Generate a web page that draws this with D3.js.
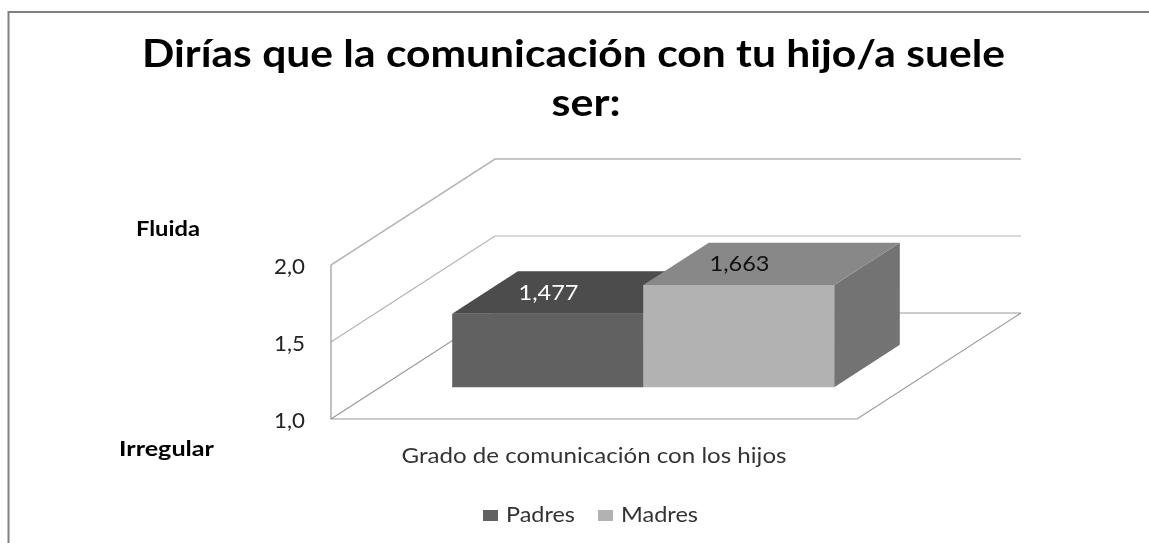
<!DOCTYPE html>
<html>
<head>
<meta charset="utf-8">
<script src="https://cdn.jsdelivr.net/npm/d3@7"></script>
<style>
body { margin: 0; background: #fff; }
svg { display: block; filter: blur(0.5px); }
text { font-family: Lato, "Open Sans", sans-serif; }
</style>
</head>
<body>
<svg id="chart" width="1149" height="543"></svg>
<script>
const series = ["Padres", "Madres"];
const values = [1.477, 1.663];
const valueLabels = ["1,477", "1,663"];
const yTicks = [1, 1.5, 2];
const yTickLabels = ["1,0", "1,5", "2,0"];
const category = "Grado de comunicación con los hijos";
const titleLines = ["Dirías que la comunicación con tu hijo/a suele", "ser:"];

const frontColor = d3.scaleOrdinal(series, ["#616161", "#b2b2b2"]);
const topColor = d3.scaleOrdinal(series, ["#4c4c4c", "#888888"]);
const sideColor = d3.scaleOrdinal(series, ["#505050", "#737373"]);
const labelColor = d3.scaleOrdinal(series, ["#ffffff", "#111111"]);

const svg = d3.select("#chart");

// the text in the picture is stretched sideways, so every label gets a fixed width
function stretched(sel, w) {
    return sel.attr("textLength", w).attr("lengthAdjust", "spacingAndGlyphs");
}

// chart frame, only top and left are visible in the picture
svg.append("path")
    .attr("d", "M8.5,543V12H1149")
    .attr("fill", "none")
    .attr("stroke", "#808080")
    .attr("stroke-width", 2);

const titleWidths = [863, 69];
svg.selectAll(".title")
    .data(titleLines)
    .join("text")
    .attr("class", "title")
    .attr("x", (d, i) => i === 0 ? 573.5 : 586)
    .attr("y", (d, i) => 67 + i * 49)
    .attr("text-anchor", "middle")
    .attr("font-size", 38)
    .attr("font-weight", 700)
    .attr("fill", "#000")
    .text(d => d)
    .call(stretched, (d, i) => titleWidths[i]);

// pseudo 3d: x along the floor, y by value, depth from 0 (front) to 1 (back)
const floorX = d3.scaleLinear([0, 1], [331, 857]);
const y = d3.scaleLinear([1, 2], [419, 265]);
const band = d3.scaleBand(series, [403, 785]);
const depthX = d3.scaleLinear([0, 1], [0, 164]);
const depthY = d3.scaleLinear([0, 1], [0, -106]);

function pt(px, v, depth) {
    return [px + depthX(depth), y(v) + depthY(depth)];
}
const x0 = floorX(0), x1 = floorX(1);
const line = d3.line();

// back wall gridlines with the left wall part
svg.selectAll(".grid")
    .data(yTicks)
    .join("path")
    .attr("class", "grid")
    .attr("d", d => line([pt(x0, d, 0), pt(x0, d, 1), pt(x1, d, 1)]))
    .attr("fill", "none")
    .attr("stroke", d => d === 1 ? "#999" : "#b4b4b4")
    .attr("stroke-width", d => d === 2 ? 1.5 : 1.2);

// front edge of floor, right edge of floor and the vertical axis
svg.append("path")
    .attr("d", line([pt(x0, 2, 0), pt(x0, 1, 0), pt(x1, 1, 0), pt(x1, 1, 1)]))
    .attr("fill", "none")
    .attr("stroke", "#999")
    .attr("stroke-width", 1.2);

const depthFront = 0.3, depthBack = 0.7;
const bars = series.map((s, i) => ({ name: s, value: values[i], label: valueLabels[i] }));

const barG = svg.selectAll(".bar").data(bars).join("g").attr("class", "bar");

barG.append("path")
    .attr("fill", d => sideColor(d.name))
    .attr("d", d => {
        const r = band(d.name) + band.bandwidth();
        return line([pt(r, d.value, depthFront), pt(r, d.value, depthBack), pt(r, 1, depthBack), pt(r, 1, depthFront)]) + "Z";
    });
barG.append("path")
    .attr("fill", d => topColor(d.name))
    .attr("d", d => {
        const l = band(d.name), r = l + band.bandwidth();
        return line([pt(l, d.value, depthFront), pt(l, d.value, depthBack), pt(r, d.value, depthBack), pt(r, d.value, depthFront)]) + "Z";
    });
barG.append("path")
    .attr("fill", d => frontColor(d.name))
    .attr("d", d => {
        const l = band(d.name), r = l + band.bandwidth();
        return line([pt(l, d.value, depthFront), pt(r, d.value, depthFront), pt(r, 1, depthFront), pt(l, 1, depthFront)]) + "Z";
    });
barG.append("text")
    .attr("x", d => band(d.name) + band.bandwidth() / 2 + depthX(0.5) - 32)
    .attr("y", d => pt(0, d.value, 0.5)[1] + 7)
    .attr("text-anchor", "middle")
    .attr("font-size", 21)
    .attr("fill", d => labelColor(d.name))
    .text(d => d.label)
    .call(stretched, 60);

svg.selectAll(".ytick")
    .data(yTicks)
    .join("text")
    .attr("class", "ytick")
    .attr("x", 305)
    .attr("y", d => y(d) + 8.5)
    .attr("text-anchor", "end")
    .attr("font-size", 21)
    .attr("fill", "#222")
    .text((d, i) => yTickLabels[i])
    .call(stretched, 31);

svg.append("text")
    .attr("x", 136).attr("y", 236)
    .attr("font-size", 20).attr("font-weight", 700).attr("fill", "#000")
    .text("Fluida")
    .call(stretched, 64);
svg.append("text")
    .attr("x", 119).attr("y", 456)
    .attr("font-size", 20).attr("font-weight", 700).attr("fill", "#000")
    .text("Irregular")
    .call(stretched, 95);

svg.append("text")
    .attr("x", 594).attr("y", 463)
    .attr("text-anchor", "middle")
    .attr("font-size", 21.5)
    .attr("fill", "#333")
    .text(category)
    .call(stretched, 385);

// legend
const legendX = d3.scaleOrdinal(series, [483, 598]);
const legendWidth = d3.scaleOrdinal(series, [69, 77]);
const legend = svg.selectAll(".legend").data(series).join("g").attr("class", "legend");
legend.append("rect")
    .attr("x", d => legendX(d)).attr("y", 510)
    .attr("width", 15).attr("height", 11)
    .attr("fill", d => frontColor(d));
legend.append("text")
    .attr("x", d => legendX(d) + 23).attr("y", 522)
    .attr("font-size", 21.5)
    .attr("fill", "#333")
    .text(d => d)
    .call(stretched, d => legendWidth(d));
</script>
</body>
</html>
